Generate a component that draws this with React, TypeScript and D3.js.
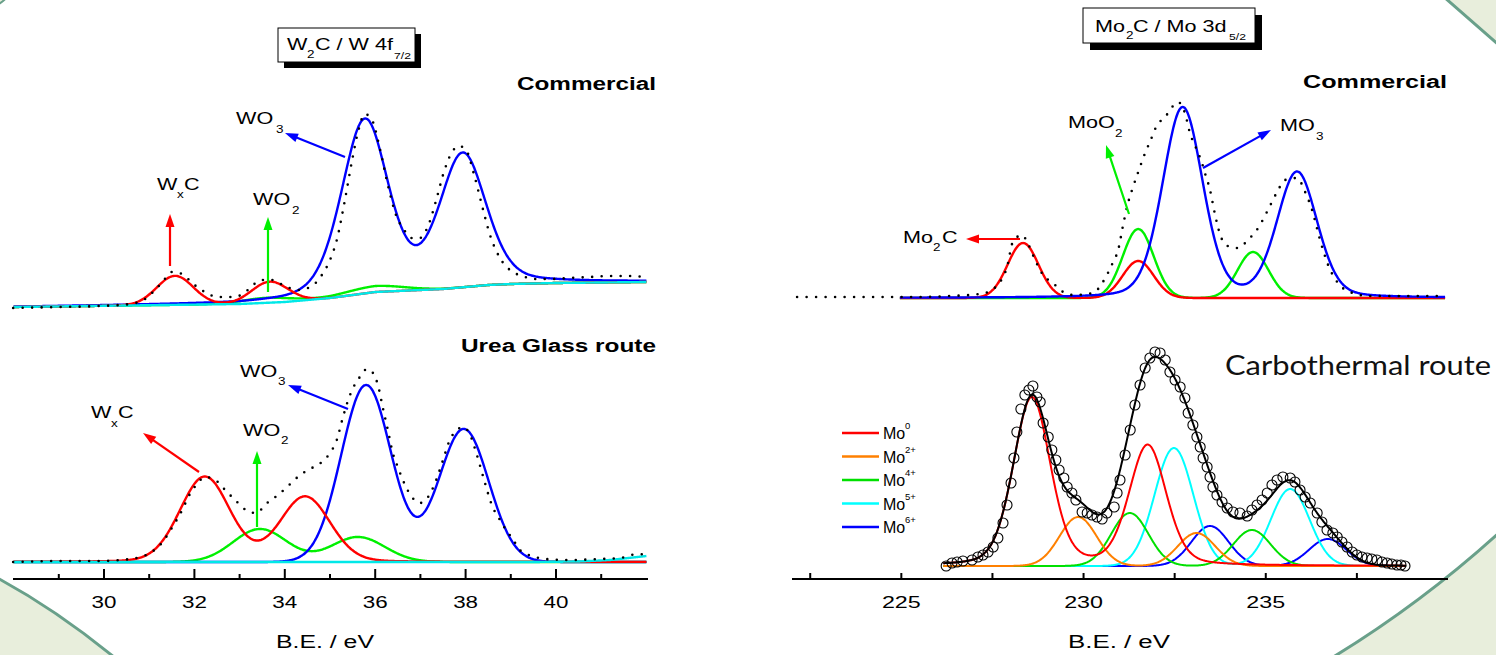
import React from "react";
import * as d3 from "d3";

// ================= DATA =================
// Peak = [centre eV, height (counts), FWHM eV, Lorentzian fraction]
type Peak = [number, number, number, number];

// ---- W 4f7/2, Commercial (measured spectrum, dotted) ----
const wComEV = [27.99, 29.03, 29.91, 30.58, 30.91, 31.13, 31.31, 31.5, 31.73, 31.95, 32.23, 32.52, 32.83, 33.08, 33.27, 33.5, 33.72, 33.96, 34.29, 34.6, 34.82, 35.0, 35.15, 35.33, 35.49, 35.62, 35.77, 35.93, 36.11, 36.28, 36.46, 36.64, 36.81, 36.99, 37.17, 37.35, 37.52, 37.7, 37.85, 38.01, 38.19, 38.36, 38.54, 38.76, 38.98, 39.25, 39.54, 39.87, 40.31, 40.75, 41.19, 41.64, 41.99];
const wComCounts = [0, 1, 2, 4, 9, 18, 27, 36, 34, 25, 16, 11, 11, 14, 22, 28, 28, 23, 18, 22, 33, 48, 68, 108, 148, 176, 194, 188, 158, 123, 93, 78, 70, 70, 82, 108, 136, 156, 162, 158, 133, 103, 73, 50, 38, 32, 29, 29, 30, 31, 32, 32, 31];
// Shirley background (cyan)
const wComBgEV = [28, 33, 34, 35, 35.5, 36, 36.5, 37, 37.5, 38, 38.5, 39, 40, 42];
const wComBgCounts = [1, 4, 6, 10, 13, 16, 17, 18, 19, 21, 23, 24, 25, 26];
// fitted components
const wComWxC: Peak[] = [[31.57, 29, 0.95, 0], [33.67, 21, 0.95, 0]];
const wComWO2: Peak[] = [[33.6, 5, 1.3, 0], [36.0, 6, 1.5, 0]];
const wComWO3: Peak[] = [[35.77, 172, 1.22, 0.3], [37.94, 131, 1.22, 0.3]];

// ---- W 4f7/2, Urea Glass route ----
const wUreaEV = [27.99, 29.03, 29.91, 30.58, 31.02, 31.28, 31.5, 31.73, 31.9, 32.06, 32.23, 32.46, 32.68, 32.9, 33.14, 33.36, 33.61, 33.85, 34.05, 34.34, 34.6, 34.82, 35.0, 35.15, 35.27, 35.38, 35.51, 35.66, 35.82, 35.95, 36.06, 36.17, 36.28, 36.39, 36.5, 36.66, 36.81, 36.99, 37.17, 37.35, 37.5, 37.65, 37.81, 37.94, 38.1, 38.25, 38.41, 38.58, 38.76, 38.94, 39.03, 39.2, 39.47, 39.76, 40.31, 40.97, 41.42, 41.81, 41.99];
const wUreaCounts = [0, 1, 1, 3, 9, 19, 34, 52, 68, 78, 85, 82, 72, 62, 52, 49, 59, 67, 75, 87, 94, 100, 109, 122, 142, 159, 174, 185, 193, 189, 177, 154, 132, 109, 95, 77, 65, 59, 65, 82, 102, 122, 132, 135, 127, 107, 82, 57, 42, 29, 24, 12, 6, 3, 2, 3, 4, 8, 7];
const wUreaBgEV = [28, 39.5, 40.5, 41.2, 41.8, 42];
const wUreaBgCounts = [0, 0, 0.5, 2, 5, 6];
const wUreaWxC: Peak[] = [[32.23, 85, 1.3, 0.1], [34.45, 65, 1.3, 0.1]];
const wUreaWO2: Peak[] = [[33.45, 33, 1.4, 0], [35.62, 25, 1.4, 0]];
const wUreaWO3: Peak[] = [[35.8, 177, 1.3, 0], [37.96, 133, 1.3, 0]];

// ---- Mo 3d5/2, Commercial ----
const moComEV = [222.14, 223.04, 224.14, 225.24, 226.34, 227.16, 227.52, 227.71, 227.9, 228.06, 228.31, 228.48, 228.67, 228.89, 229.16, 229.44, 229.71, 230.26, 230.53, 230.81, 230.95, 231.08, 231.22, 231.33, 231.5, 231.69, 231.82, 232.02, 232.24, 232.43, 232.59, 232.78, 232.92, 233.11, 233.25, 233.33, 233.47, 233.61, 233.75, 233.96, 234.24, 234.51, 234.79, 235.06, 235.31, 235.53, 235.86, 236.08, 236.27, 236.49, 236.71, 236.98, 237.31, 237.86, 238.68, 239.92];
const moComCounts = [1, 1, 1, 1, 2, 4, 9, 16, 31, 56, 63, 54, 38, 23, 15, 6, 3, 5, 16, 36, 48, 72, 95, 108, 126, 145, 156, 173, 181, 191, 196, 185, 165, 148, 135, 125, 108, 83, 63, 52, 50, 58, 70, 88, 106, 118, 120, 106, 88, 58, 33, 15, 6, 2, 2, 2];
const moComMo2C: Peak[] = [[228.34, 55, 1.0, 0], [231.5, 37, 1.0, 0]];
const moComMoO2: Peak[] = [[231.5, 69, 1.0, 0], [234.65, 46, 1.0, 0]];
const moComMoO3: Peak[] = [[232.72, 190, 1.3, 0.2], [235.86, 125, 1.3, 0.2]];

// ---- Mo 3d, Carbothermal route ----
const ctEV = [226.23, 226.39, 226.53, 226.69, 226.94, 227.1, 227.24, 227.38, 227.52, 227.65, 227.79, 227.9, 228.01, 228.09, 228.17, 228.28, 228.39, 228.5, 228.61, 228.72, 228.81, 228.89, 229.03, 229.13, 229.24, 229.33, 229.46, 229.55, 229.68, 229.79, 229.96, 230.1, 230.23, 230.37, 230.51, 230.64, 230.84, 230.92, 231.0, 231.14, 231.28, 231.41, 231.55, 231.69, 231.82, 231.96, 232.1, 232.24, 232.37, 232.51, 232.65, 232.78, 232.87, 233.0, 233.11, 233.2, 233.28, 233.39, 233.47, 233.55, 233.66, 233.8, 233.94, 234.1, 234.29, 234.49, 234.62, 234.76, 234.9, 235.04, 235.17, 235.31, 235.47, 235.67, 235.8, 235.94, 236.08, 236.22, 236.41, 236.54, 236.68, 236.84, 236.96, 237.09, 237.23, 237.37, 237.5, 237.64, 237.78, 237.91, 238.05, 238.19, 238.33, 238.46, 238.6, 238.71, 238.82];
const ctCounts = [0, 3, 4, 5, 6, 9, 11, 14, 19, 28, 43, 61, 83, 108, 134, 157, 171, 176, 180, 169, 164, 143, 129, 116, 106, 96, 88, 79, 73, 66, 54, 53, 51, 49, 47, 53, 59, 73, 86, 111, 136, 161, 181, 198, 208, 214, 213, 206, 194, 186, 179, 168, 153, 141, 129, 119, 108, 99, 89, 79, 71, 64, 58, 54, 53, 50, 56, 61, 66, 73, 81, 86, 89, 88, 84, 76, 69, 63, 53, 44, 36, 33, 29, 24, 19, 14, 11, 9, 8, 7, 6, 4, 3, 2, 1, 1, 0];
const ctStates = ["0", "2+", "4+", "5+", "6+"];
const ctCentre52 = [228.58, 229.85, 231.27, 232.48, 233.47];
const ctCentre32 = [231.76, 233.1, 234.62, 235.67, 236.7];
const ctHeight52 = [168, 49, 53, 118, 40];
const ctHeight32 = [120, 33, 36, 77, 27];
const ctFwhm = [1.2, 1.2, 1.2, 1.25, 1.2];
const ctLorentz = [0.25, 0, 0, 0, 0];

const wTicks = [29, 30, 31, 32, 33, 34, 35, 36, 37, 38, 39, 40, 41];
const wTickLabels = [30, 32, 34, 36, 38, 40];
const moTicks = [222.5, 225, 227.5, 230, 232.5, 235, 237.5];
const moTickLabels = [225, 230, 235];

// ================= STYLE =================
const ARIAL = "'Liberation Sans', Arial, Helvetica, sans-serif";
const RED = "#ff0000", GREEN = "#00f000", BLUE = "#0000ff", CYAN = "#00e8e8", ORANGE = "#ff8000";
const CT_COLORS = ["#ff0000", "#ff8000", "#00e000", "#00ffff", "#0000ff"];
const SX = 1.35;

function pv(e: number, p: Peak) {
  const [c, h, w, eta] = p;
  const t = (e - c) / w;
  return h * ((1 - eta) * Math.exp(-4 * Math.LN2 * t * t) + eta / (1 + 4 * t * t));
}

function model(lo: number, hi: number, peaks: Peak[], bg: (e: number) => number) {
  return d3.range(lo, hi + 1e-6, 0.02).map((e) => [e, bg(e) + d3.sum(peaks, (p) => pv(e, p))] as [number, number]);
}

function T(props: any) {
  const { x, y, children, size = 16, sx = 1, anchor = "start", weight = "normal", family = ARIAL, fill = "#000", width } = props;
  return (
    <text
      transform={`translate(${x},${y}) scale(${sx},1)`}
      fontSize={size}
      fontFamily={family}
      fontWeight={weight}
      textAnchor={anchor}
      fill={fill}
      textLength={width}
      lengthAdjust={width ? "spacingAndGlyphs" : undefined}
    >
      {children}
    </text>
  );
}

function Arrow({ x1, y1, x2, y2, color }: any) {
  const a = Math.atan2(y2 - y1, x2 - x1);
  const L = 13, hw = 4.5;
  const bx = x2 - L * Math.cos(a), by = y2 - L * Math.sin(a);
  const p1 = [bx + hw * Math.sin(a), by - hw * Math.cos(a)];
  const p2 = [bx - hw * Math.sin(a), by + hw * Math.cos(a)];
  return (
    <g>
      <line x1={x1} y1={y1} x2={bx + 2 * Math.cos(a)} y2={by + 2 * Math.sin(a)} stroke={color} strokeWidth={2.2} />
      <polygon points={`${x2},${y2} ${p1[0]},${p1[1]} ${p2[0]},${p2[1]}`} fill={color} />
    </g>
  );
}

export default function App() {
  const xW = d3.scaleLinear().domain([28, 42]).range([13.6, 646.4]);
  const xMo = d3.scaleLinear().domain([222, 240]).range([792, 1448]);
  const yTL = d3.scaleLinear().domain([0, 200]).range([308, 108]);
  const yBL = d3.scaleLinear().domain([0, 200]).range([562, 362]);
  const yTR = d3.scaleLinear().domain([0, 200]).range([298, 98]);
  const yCT = d3.scaleLinear().domain([0, 220]).range([566, 346]);

  const lineTL = d3.line<[number, number]>().x((d) => xW(d[0])).y((d) => yTL(d[1])).curve(d3.curveMonotoneX);
  const lineBL = d3.line<[number, number]>().x((d) => xW(d[0])).y((d) => yBL(d[1])).curve(d3.curveMonotoneX);
  const lineTR = d3.line<[number, number]>().x((d) => xMo(d[0])).y((d) => yTR(d[1])).curve(d3.curveMonotoneX);
  const lineCT = d3.line<[number, number]>().x((d) => xMo(d[0])).y((d) => yCT(d[1])).curve(d3.curveMonotoneX);

  const bgCom = d3.scaleLinear().domain(wComBgEV).range(wComBgCounts);
  const bgUrea = d3.scaleLinear().domain(wUreaBgEV).range(wUreaBgCounts);
  const zero = () => 0;

  const dotted = { fill: "none", stroke: "#000", strokeWidth: 2.6, strokeDasharray: "0 9.5", strokeLinecap: "round" as const };
  const comp = (c: string, w = 2.4) => ({ fill: "none", stroke: c, strokeWidth: w });

  const ctPeaks: Peak[][] = ctStates.map((_, i) => [
    [ctCentre52[i], ctHeight52[i], ctFwhm[i], ctLorentz[i]],
    [ctCentre32[i], ctHeight32[i], ctFwhm[i], ctLorentz[i]],
  ]);
  const ctLo = 226.15, ctHi = 238.85;
  const ctEnvelope = model(ctLo, ctHi, ctPeaks.flat(), zero);

  return (
    <svg width={1496} height={655} style={{ position: "absolute", left: 0, top: 0, background: "#fff" }}>
      {/* slide decoration */}
      <rect x={0} y={0} width={1496} height={655} fill="#fff" />
      <path d="M -10,574 Q 55,608 120,662 L -10,662 Z" fill="#e8eedc" stroke="#69a08a" strokeWidth={3} />
      <path d="M 1502,530 Q 1420,605 1325,662 L 1502,662 Z" fill="#e8eedc" stroke="#69a08a" strokeWidth={3} />
      <path d="M 1444,-3 L 1500,46 L 1500,-3 Z" fill="#e8eedc" stroke="#69a08a" strokeWidth={3} />
      <path d="M -3,-3 L 7,-3 Q 3,2 -3,5 Z" fill="#e8eedc" stroke="#69a08a" strokeWidth={2} />

      {/* ============ W 4f panel: Commercial ============ */}
      <rect x={284} y={34} width={137} height={34} fill="#000" />
      <rect x={278} y={28} width={137} height={34} fill="#fff" stroke="#000" strokeWidth={1} />
      <T x={287} y={50} sx={SX}>W</T>
      <T x={307} y={58} size={10} sx={SX}>2</T>
      <T x={315} y={50} sx={SX}>C / W 4f</T>
      <T x={394} y={59} size={9} sx={SX}>7/2</T>
      <T x={656} y={90} size={18} weight="bold" anchor="end" width={139}>Commercial</T>

      <path d={lineTL(model(28, 42, wComWO2, bgCom)) || ""} {...comp(GREEN)} />
      <path d={lineTL(model(28, 42, wComWO3, bgCom)) || ""} {...comp(BLUE)} />
      <path d={lineTL(model(28, 42, wComWxC, bgCom)) || ""} {...comp(RED)} />
      <path d={lineTL(model(28, 42, [], bgCom)) || ""} {...comp(CYAN)} />
      <path d={lineTL(wComEV.map((e, i) => [e, wComCounts[i]] as [number, number])) || ""} {...dotted} />

      <T x={236} y={124} sx={SX}>WO</T>
      <T x={276} y={133} size={10} sx={SX}>3</T>
      <Arrow x1={345} y1={157} x2={285} y2={133} color={BLUE} />
      <T x={157} y={190} sx={SX}>W</T>
      <T x={177} y={198} size={10} sx={SX}>x</T>
      <T x={184} y={190} sx={SX}>C</T>
      <Arrow x1={170} y1={266} x2={170} y2={214} color={RED} />
      <T x={253} y={205} sx={SX}>WO</T>
      <T x={292} y={214} size={10} sx={SX}>2</T>
      <Arrow x1={268} y1={292} x2={268} y2={217} color={GREEN} />

      {/* ============ W 4f panel: Urea Glass route ============ */}
      <T x={656} y={352} size={18} weight="bold" anchor="end" width={195}>Urea Glass route</T>
      <path d={lineBL(model(28, 42, wUreaWO2, zero)) || ""} {...comp(GREEN)} />
      <path d={lineBL(model(28, 42, wUreaWO3, zero)) || ""} {...comp(BLUE)} />
      <path d={lineBL(model(28, 42, wUreaWxC, zero)) || ""} {...comp(RED)} />
      <path d={lineBL(model(28, 42, [], bgUrea)) || ""} {...comp(CYAN)} />
      <path d={lineBL(wUreaEV.map((e, i) => [e, wUreaCounts[i]] as [number, number])) || ""} {...dotted} />

      <T x={240} y={377} sx={SX}>WO</T>
      <T x={278} y={385} size={10} sx={SX}>3</T>
      <Arrow x1={348} y1={409} x2={288} y2={385} color={BLUE} />
      <T x={91} y={418} sx={SX}>W</T>
      <T x={111} y={427} size={10} sx={SX}>x</T>
      <T x={118} y={418} sx={SX}>C</T>
      <Arrow x1={199} y1={472} x2={143} y2={433} color={RED} />
      <T x={243} y={436} sx={SX}>WO</T>
      <T x={281} y={444} size={10} sx={SX}>2</T>
      <Arrow x1={257} y1={527} x2={257} y2={451} color={GREEN} />

      {/* W axis */}
      <line x1={13} x2={648} y1={579} y2={579} stroke="#000" strokeWidth={2} />
      {wTicks.map((v) => (
        <line key={v} x1={xW(v)} x2={xW(v)} y1={579} y2={v % 2 === 0 ? 569 : 574} stroke="#000" strokeWidth={2} />
      ))}
      {wTickLabels.map((v) => (
        <T key={v} x={xW(v)} y={608} size={16} sx={1.4} anchor="middle">{v}</T>
      ))}
      <T x={325} y={648} size={18} anchor="middle" width={98}>B.E. / eV</T>

      {/* ============ Mo 3d panel: Commercial ============ */}
      <rect x={1090} y={15} width={172} height={35} fill="#000" />
      <rect x={1083} y={8} width={172} height={35} fill="#fff" stroke="#000" strokeWidth={1} />
      <T x={1095} y={32} sx={SX}>Mo</T>
      <T x={1126} y={39} size={10} sx={SX}>2</T>
      <T x={1133} y={32} sx={SX}>C / Mo 3d</T>
      <T x={1229} y={40} size={9} sx={SX}>5/2</T>
      <T x={1447} y={88} size={18} weight="bold" anchor="end" width={144}>Commercial</T>

      <path d={lineTR(model(224.96, 239.92, moComMoO2, zero)) || ""} {...comp(GREEN)} />
      <path d={lineTR(model(224.96, 239.92, moComMo2C, zero)) || ""} {...comp(RED)} />
      <path d={lineTR(model(224.96, 239.92, moComMoO3, zero)) || ""} {...comp(BLUE)} />
      <path d={lineTR(moComEV.map((e, i) => [e, moComCounts[i]] as [number, number])) || ""} {...dotted} />

      <T x={1068} y={128} sx={SX}>MoO</T>
      <T x={1115} y={137} size={10} sx={SX}>2</T>
      <Arrow x1={1129} y1={214} x2={1106} y2={145} color={GREEN} />
      <T x={1280} y={131} sx={SX}>MO</T>
      <T x={1316} y={140} size={10} sx={SX}>3</T>
      <Arrow x1={1203} y1={168} x2={1271} y2={130} color={BLUE} />
      <T x={903} y={243} sx={SX}>Mo</T>
      <T x={933} y={251} size={10} sx={SX}>2</T>
      <T x={942} y={243} sx={SX}>C</T>
      <Arrow x1={1020} y1={239} x2={966} y2={239} color={RED} />

      {/* ============ Mo 3d panel: Carbothermal route ============ */}
      <T x={1225} y={375} size={27} family="Lato, 'Open Sans', sans-serif" fill="#111" width={266}>Carbothermal route</T>
      {[4, 3, 2, 1, 0].map((i) => (
        <path key={i} d={lineCT(model(ctLo, ctHi, ctPeaks[i], zero)) || ""} {...comp(CT_COLORS[i], 2)} />
      ))}
      <path d={lineCT(ctEnvelope) || ""} fill="none" stroke="#000" strokeWidth={2} />
      {ctEV.map((e, i) => (
        <circle key={i} cx={xMo(e)} cy={yCT(ctCounts[i])} r={5} fill="none" stroke="#000" strokeWidth={1.1} />
      ))}
      {ctStates.map((s, i) => (
        <g key={s}>
          <line x1={842} x2={879} y1={433 + i * 23.5} y2={433 + i * 23.5} stroke={CT_COLORS[i]} strokeWidth={2.5} />
          <T x={883} y={439 + i * 23.5} size={16}>Mo</T>
          <T x={905} y={429 + i * 23.5} size={9.5}>{s}</T>
        </g>
      ))}

      {/* Mo axis */}
      <line x1={792} x2={1448} y1={579} y2={579} stroke="#000" strokeWidth={2} />
      {moTicks.map((v) => (
        <line key={v} x1={xMo(v)} x2={xMo(v)} y1={579} y2={573} stroke="#000" strokeWidth={2} />
      ))}
      {moTickLabels.map((v) => (
        <T key={v} x={xMo(v)} y={608} size={17} sx={1.37} anchor="middle">{v}</T>
      ))}
      <T x={1119} y={648} size={18} anchor="middle" width={102}>B.E. / eV</T>
    </svg>
  );
}
